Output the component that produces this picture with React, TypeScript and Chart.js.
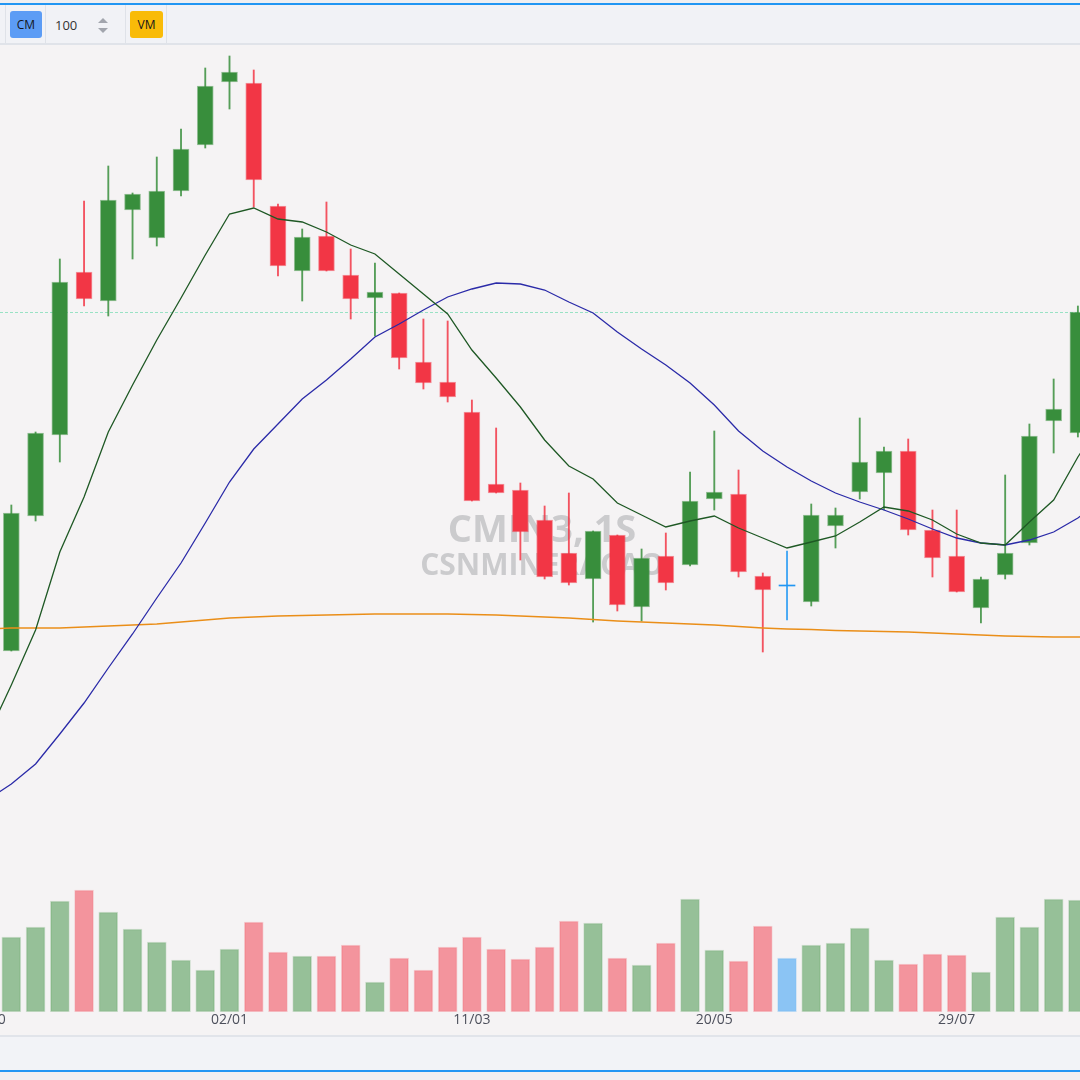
import React, { useEffect, useRef } from "react";
import { Chart, registerables } from "chart.js";

Chart.register(...registerables);

// ---- Data (weekly candles, week index 1..45; week 0 = 23/10) ----
const tickWeeks = [0, 10, 20, 30, 40];
const tickLabels = ["23/10", "02/01", "11/03", "20/05", "29/07"];

const opens = [3.61, 4.96, 5.77, 7.40, 7.11, 8.02, 7.74, 8.21, 8.67, 9.30, 9.29, 8.06, 7.41, 7.76, 7.37, 7.14, 7.19, 6.50, 6.30, 6.00, 5.28, 5.22, 4.92, 4.59, 4.33, 4.77, 4.05, 4.56, 4.47, 5.13, 5.18, 4.36, 4.26, 4.10, 4.86, 5.20, 5.39, 5.61, 4.82, 4.56, 4.04, 4.37, 4.69, 5.91, 5.79];
const highs = [5.07, 5.80, 7.53, 8.11, 8.46, 8.19, 8.55, 8.83, 9.44, 9.56, 9.42, 8.08, 7.83, 8.10, 7.63, 7.49, 7.19, 6.93, 6.91, 6.12, 5.84, 5.29, 5.06, 5.19, 4.81, 4.77, 4.63, 4.79, 5.40, 5.81, 5.42, 4.39, 4.61, 5.08, 5.04, 5.94, 5.65, 5.73, 5.02, 5.02, 4.35, 5.37, 5.88, 6.33, 7.06];
const lows = [3.61, 4.91, 5.50, 7.06, 6.96, 7.53, 7.66, 8.16, 8.64, 9.03, 8.05, 7.36, 7.11, 7.41, 6.93, 6.76, 6.43, 6.23, 6.10, 5.11, 5.19, 4.52, 4.33, 4.27, 3.90, 4.01, 3.91, 4.22, 4.46, 5.02, 4.35, 3.60, 3.92, 4.06, 4.64, 5.13, 5.02, 4.77, 4.35, 4.20, 3.89, 4.33, 4.67, 5.59, 5.75];
const closes = [4.99, 5.79, 7.30, 7.13, 8.12, 8.18, 8.21, 8.63, 9.26, 9.40, 8.32, 7.46, 7.75, 7.41, 7.13, 7.20, 6.54, 6.29, 6.15, 5.11, 5.19, 4.80, 4.35, 4.29, 4.81, 4.07, 4.54, 4.29, 5.11, 5.20, 4.40, 4.22, 4.26, 4.97, 4.97, 5.50, 5.61, 4.82, 4.54, 4.20, 4.33, 4.59, 5.76, 6.03, 7.00];
const volumes = [7.5, 8.5, 11.1, 12.2, 10.0, 8.3, 7.0, 5.2, 4.2, 6.3, 9.0, 6.0, 5.6, 5.6, 6.7, 3.0, 5.4, 4.2, 6.5, 7.5, 6.3, 5.3, 6.5, 9.1, 8.9, 5.4, 4.7, 6.9, 11.3, 6.2, 5.1, 8.6, 5.4, 6.7, 6.9, 8.4, 5.2, 4.8, 5.8, 5.7, 4.0, 9.5, 8.5, 11.3, 11.2];

// moving averages, week index 0..46
const maFast = [2.75, 3.27, 3.82, 4.60, 5.15, 5.80, 6.27, 6.72, 7.14, 7.57, 7.98, 8.04, 7.93, 7.90, 7.80, 7.67, 7.58, 7.38, 7.18, 6.98, 6.62, 6.34, 6.05, 5.72, 5.46, 5.33, 5.09, 4.97, 4.85, 4.91, 4.96, 4.84, 4.74, 4.64, 4.70, 4.76, 4.90, 5.05, 5.01, 4.92, 4.78, 4.69, 4.67, 4.90, 5.12, 5.55, 5.92];
const maMid = [2.12, 2.28, 2.48, 2.78, 3.09, 3.44, 3.78, 4.14, 4.49, 4.89, 5.30, 5.63, 5.88, 6.13, 6.32, 6.53, 6.75, 6.88, 7.02, 7.15, 7.23, 7.29, 7.28, 7.22, 7.10, 6.99, 6.80, 6.63, 6.47, 6.29, 6.07, 5.81, 5.61, 5.45, 5.31, 5.19, 5.10, 5.02, 4.93, 4.83, 4.74, 4.69, 4.67, 4.72, 4.80, 4.94, 5.12];
const maSlow = [3.83, 3.84, 3.84, 3.84, 3.85, 3.86, 3.87, 3.88, 3.90, 3.92, 3.94, 3.95, 3.96, 3.965, 3.97, 3.975, 3.98, 3.98, 3.98, 3.98, 3.975, 3.97, 3.96, 3.95, 3.94, 3.925, 3.91, 3.90, 3.89, 3.88, 3.87, 3.855, 3.84, 3.83, 3.825, 3.815, 3.81, 3.805, 3.80, 3.79, 3.78, 3.77, 3.76, 3.755, 3.75, 3.75, 3.75];

const WATERMARK_TITLE = "CMIN3, 1S";
const WATERMARK_SUB = "CSNMINERACAO";

// ---- Styles ----
const UP = [56, 142, 60];
const DOWN = [242, 54, 69];
const FLAT = [33, 150, 243];
const rgba = (c: number[], a: number) => `rgba(${c[0]},${c[1]},${c[2]},${a})`;
const dirColor = (i: number) => (closes[i] > opens[i] ? UP : closes[i] < opens[i] ? DOWN : FLAT);

const watermarkPlugin = {
  id: "watermark",
  beforeDatasetsDraw(chart: any) {
    const { ctx, chartArea: a } = chart;
    const cx = (a.left + a.right) / 2 + 2;
    const cy = (a.top + a.bottom) / 2;
    ctx.save();
    ctx.fillStyle = "rgba(115,117,125,0.32)";
    ctx.textAlign = "center";
    ctx.textBaseline = "middle";
    ctx.font = "bold 38px 'Open Sans', sans-serif";
    ctx.fillText(WATERMARK_TITLE, cx, cy + 3);
    ctx.font = "bold 30px 'Open Sans', sans-serif";
    ctx.fillText(WATERMARK_SUB, cx, cy + 38);
    ctx.restore();
  },
};

const lastPricePlugin = {
  id: "lastPrice",
  beforeDatasetsDraw(chart: any) {
    const { ctx, chartArea: a, scales } = chart;
    const y = Math.round(scales.y.getPixelForValue(closes[closes.length - 1])) + 0.5;
    ctx.save();
    ctx.strokeStyle = "rgba(120,220,180,0.75)";
    ctx.lineWidth = 1;
    ctx.setLineDash([3, 2]);
    ctx.beginPath();
    ctx.moveTo(a.left, y);
    ctx.lineTo(a.right, y);
    ctx.stroke();
    ctx.restore();
  },
};

export default function App() {
  const ref = useRef<HTMLCanvasElement>(null);

  useEffect(() => {
    const candleData = (fn: (i: number) => any) => opens.map((_, i) => ({ x: i + 1, y: fn(i) }));
    const maData = (arr: number[]) => arr.map((v, i) => ({ x: i, y: v }));

    const chart = new Chart(ref.current as HTMLCanvasElement, {
      type: "bar",
      data: {
        datasets: [
          {
            type: "bar",
            label: "Volume",
            yAxisID: "yv",
            data: volumes.map((v, i) => ({ x: i + 1, y: v })),
            backgroundColor: volumes.map((_, i) => rgba(dirColor(i), 0.5)),
            borderColor: volumes.map((_, i) => rgba(dirColor(i), 0.2)),
            borderWidth: 1,
            borderSkipped: false,
            barThickness: 19,
            grouped: false,
            order: 6,
          } as any,
          {
            type: "bar",
            label: "Wick",
            yAxisID: "y",
            data: candleData((i) => [lows[i], highs[i]]),
            backgroundColor: opens.map((_, i) => rgba(dirColor(i), 0.85)),
            borderWidth: 0,
            barThickness: 1.2,
            grouped: false,
            order: 5,
          } as any,
          {
            type: "bar",
            label: "Body",
            yAxisID: "y",
            data: candleData((i) => [opens[i], closes[i]]),
            backgroundColor: opens.map((_, i) => rgba(dirColor(i), 1)),
            borderColor: opens.map((_, i) => rgba(dirColor(i), 0.5)),
            borderWidth: opens.map((_, i) => (closes[i] === opens[i] ? 0 : 1)),
            borderSkipped: false,
            minBarLength: 1,
            barThickness: 16,
            grouped: false,
            order: 4,
          } as any,
          {
            type: "line",
            label: "MA slow",
            yAxisID: "y",
            data: maData(maSlow),
            borderColor: "rgb(234,142,24)",
            borderWidth: 1.3,
            pointRadius: 0,
            tension: 0,
            order: 3,
          } as any,
          {
            type: "line",
            label: "MA mid",
            yAxisID: "y",
            data: maData(maMid),
            borderColor: "rgb(42,42,168)",
            borderWidth: 1.3,
            pointRadius: 0,
            tension: 0,
            order: 2,
          } as any,
          {
            type: "line",
            label: "MA fast",
            yAxisID: "y",
            data: maData(maFast),
            borderColor: "rgb(30,88,36)",
            borderWidth: 1.3,
            pointRadius: 0,
            tension: 0,
            order: 1,
          } as any,
        ],
      },
      options: {
        animation: false,
        responsive: false,
        maintainAspectRatio: false,
        devicePixelRatio: 1,
        events: [],
        layout: { padding: 0, autoPadding: false },
        plugins: { legend: { display: false }, tooltip: { enabled: false } },
        scales: {
          x: {
            type: "linear",
            min: -1.118,
            max: 46.737,
            offset: false,
            grid: { display: false, drawTicks: false },
            border: { display: false },
            ticks: {
              autoSkip: false,
              maxRotation: 0,
              padding: 0,
              color: "#4d505c",
              font: { family: "'Open Sans', sans-serif", size: 14 },
              callback: (_v: any, idx: number) => tickLabels[idx] ?? "",
            },
            afterBuildTicks: (axis: any) => {
              axis.ticks = tickWeeks.map((v) => ({ value: v }));
            },
            afterFit: (axis: any) => {
              axis.height = 23;
              axis.paddingLeft = 0;
              axis.paddingRight = 0;
            },
          },
          y: { display: false, min: 0, max: 9.67 },
          yv: { display: false, min: 0, max: 96.7, position: "right" },
        },
      } as any,
      plugins: [watermarkPlugin, lastPricePlugin],
    });
    return () => chart.destroy();
  }, []);

  const sep = (left: number) => (
    <div style={{ position: "absolute", left, top: 5, width: 1, height: 38, background: "#dfe2e8" }} />
  );
  const tri = (up: boolean, top: number) => (
    <div
      style={{
        position: "absolute",
        left: 98,
        top,
        width: 0,
        height: 0,
        borderLeft: "5px solid transparent",
        borderRight: "5px solid transparent",
        ...(up ? { borderBottom: "5px solid #a2a5ad" } : { borderTop: "5px solid #a2a5ad" }),
      }}
    />
  );
  const btn = (left: number, width: number, bg: string, text: string) => (
    <div
      style={{
        position: "absolute",
        left,
        top: 11,
        width,
        height: 27,
        background: bg,
        borderRadius: 3,
        display: "flex",
        alignItems: "center",
        justifyContent: "center",
        fontSize: 12,
        color: "#14161c",
      }}
    >
      {text}
    </div>
  );

  return (
    <div
      style={{
        position: "fixed",
        left: 0,
        top: 0,
        width: 1080,
        height: 1080,
        overflow: "hidden",
        background: "#efeff1",
        fontFamily: "'Open Sans', sans-serif",
      }}
    >
      <div style={{ position: "absolute", left: 0, top: 3, width: 1080, height: 2, background: "#2196f3" }} />
      <div style={{ position: "absolute", left: 0, top: 5, width: 1080, height: 38, background: "#f1f2f6" }} />
      <div style={{ position: "absolute", left: 0, top: 43, width: 1080, height: 2, background: "#e0e3e9" }} />
      {sep(5)}
      {sep(45)}
      {sep(125)}
      {sep(166)}
      {btn(10, 32, "#5c9cf5", "CM")}
      <div style={{ position: "absolute", left: 55, top: 11, height: 27, display: "flex", alignItems: "center", fontSize: 13, color: "#333" }}>100</div>
      {tri(true, 18)}
      {tri(false, 28)}
      {btn(130, 33, "#f9bb08", "VM")}

      <div style={{ position: "absolute", left: 0, top: 45, width: 1080, height: 990, background: "#f5f3f4", overflow: "hidden" }}>
        <canvas ref={ref} width={1160} height={990} style={{ position: "absolute", left: -40, top: 0, width: 1160, height: 990 }} />
      </div>

      <div style={{ position: "absolute", left: 0, top: 1035, width: 1080, height: 2, background: "#e1e4ea" }} />
      <div style={{ position: "absolute", left: 0, top: 1037, width: 1080, height: 33, background: "#f2f3f7" }} />
      <div style={{ position: "absolute", left: 0, top: 1070, width: 1080, height: 2, background: "#2196f3" }} />
    </div>
  );
}
